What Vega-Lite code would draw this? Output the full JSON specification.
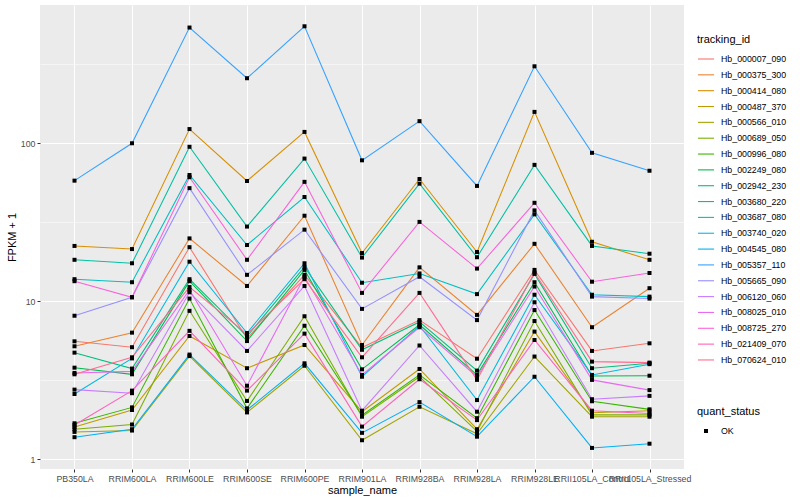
{
"$schema":"https://vega.github.io/schema/vega-lite/v6.json",
"width":644,"height":464,
"autosize":{"type":"none"},
"padding":{"left":40,"top":5,"right":116,"bottom":31},
"background":"white",
"datasets":{"d":[
{"tracking_id":"Hb_000007_090","sample_name":"PB350LA","fpkm":5.58},{"tracking_id":"Hb_000007_090","sample_name":"RRIM600LA","fpkm":5.12},{"tracking_id":"Hb_000007_090","sample_name":"RRIM600LE","fpkm":22.0},{"tracking_id":"Hb_000007_090","sample_name":"RRIM600SE","fpkm":5.8},{"tracking_id":"Hb_000007_090","sample_name":"RRIM600PE","fpkm":14.7},{"tracking_id":"Hb_000007_090","sample_name":"RRIM901LA","fpkm":5.1},{"tracking_id":"Hb_000007_090","sample_name":"RRIM928BA","fpkm":7.6},{"tracking_id":"Hb_000007_090","sample_name":"RRIM928LA","fpkm":4.33},{"tracking_id":"Hb_000007_090","sample_name":"RRIM928LE","fpkm":15.8},{"tracking_id":"Hb_000007_090","sample_name":"RRII105LA_Control","fpkm":4.85},{"tracking_id":"Hb_000007_090","sample_name":"RRII105LA_Stressed","fpkm":5.42},
{"tracking_id":"Hb_000375_300","sample_name":"PB350LA","fpkm":5.19},{"tracking_id":"Hb_000375_300","sample_name":"RRIM600LA","fpkm":6.33},{"tracking_id":"Hb_000375_300","sample_name":"RRIM600LE","fpkm":25.0},{"tracking_id":"Hb_000375_300","sample_name":"RRIM600SE","fpkm":12.5},{"tracking_id":"Hb_000375_300","sample_name":"RRIM600PE","fpkm":34.8},{"tracking_id":"Hb_000375_300","sample_name":"RRIM901LA","fpkm":5.29},{"tracking_id":"Hb_000375_300","sample_name":"RRIM928BA","fpkm":16.4},{"tracking_id":"Hb_000375_300","sample_name":"RRIM928LA","fpkm":8.2},{"tracking_id":"Hb_000375_300","sample_name":"RRIM928LE","fpkm":23.1},{"tracking_id":"Hb_000375_300","sample_name":"RRII105LA_Control","fpkm":6.85},{"tracking_id":"Hb_000375_300","sample_name":"RRII105LA_Stressed","fpkm":12.1},
{"tracking_id":"Hb_000414_080","sample_name":"PB350LA","fpkm":22.4},{"tracking_id":"Hb_000414_080","sample_name":"RRIM600LA","fpkm":21.4},{"tracking_id":"Hb_000414_080","sample_name":"RRIM600LE","fpkm":123},{"tracking_id":"Hb_000414_080","sample_name":"RRIM600SE","fpkm":57.7},{"tracking_id":"Hb_000414_080","sample_name":"RRIM600PE","fpkm":118},{"tracking_id":"Hb_000414_080","sample_name":"RRIM901LA","fpkm":20.2},{"tracking_id":"Hb_000414_080","sample_name":"RRIM928BA","fpkm":59.4},{"tracking_id":"Hb_000414_080","sample_name":"RRIM928LA","fpkm":20.5},{"tracking_id":"Hb_000414_080","sample_name":"RRIM928LE","fpkm":158},{"tracking_id":"Hb_000414_080","sample_name":"RRII105LA_Control","fpkm":23.8},{"tracking_id":"Hb_000414_080","sample_name":"RRII105LA_Stressed","fpkm":18.3},
{"tracking_id":"Hb_000487_370","sample_name":"PB350LA","fpkm":1.60},{"tracking_id":"Hb_000487_370","sample_name":"RRIM600LA","fpkm":2.05},{"tracking_id":"Hb_000487_370","sample_name":"RRIM600LE","fpkm":6.03},{"tracking_id":"Hb_000487_370","sample_name":"RRIM600SE","fpkm":3.77},{"tracking_id":"Hb_000487_370","sample_name":"RRIM600PE","fpkm":5.29},{"tracking_id":"Hb_000487_370","sample_name":"RRIM901LA","fpkm":2.0},{"tracking_id":"Hb_000487_370","sample_name":"RRIM928BA","fpkm":3.73},{"tracking_id":"Hb_000487_370","sample_name":"RRIM928LA","fpkm":1.55},{"tracking_id":"Hb_000487_370","sample_name":"RRIM928LE","fpkm":6.43},{"tracking_id":"Hb_000487_370","sample_name":"RRII105LA_Control","fpkm":1.97},{"tracking_id":"Hb_000487_370","sample_name":"RRII105LA_Stressed","fpkm":2.03},
{"tracking_id":"Hb_000566_010","sample_name":"PB350LA","fpkm":1.49},{"tracking_id":"Hb_000566_010","sample_name":"RRIM600LA","fpkm":1.52},{"tracking_id":"Hb_000566_010","sample_name":"RRIM600LE","fpkm":4.5},{"tracking_id":"Hb_000566_010","sample_name":"RRIM600SE","fpkm":1.98},{"tracking_id":"Hb_000566_010","sample_name":"RRIM600PE","fpkm":3.91},{"tracking_id":"Hb_000566_010","sample_name":"RRIM901LA","fpkm":1.32},{"tracking_id":"Hb_000566_010","sample_name":"RRIM928BA","fpkm":2.15},{"tracking_id":"Hb_000566_010","sample_name":"RRIM928LA","fpkm":1.45},{"tracking_id":"Hb_000566_010","sample_name":"RRIM928LE","fpkm":4.47},{"tracking_id":"Hb_000566_010","sample_name":"RRII105LA_Control","fpkm":1.86},{"tracking_id":"Hb_000566_010","sample_name":"RRII105LA_Stressed","fpkm":1.86},
{"tracking_id":"Hb_000689_050","sample_name":"PB350LA","fpkm":1.55},{"tracking_id":"Hb_000689_050","sample_name":"RRIM600LA","fpkm":1.66},{"tracking_id":"Hb_000689_050","sample_name":"RRIM600LE","fpkm":8.7},{"tracking_id":"Hb_000689_050","sample_name":"RRIM600SE","fpkm":2.34},{"tracking_id":"Hb_000689_050","sample_name":"RRIM600PE","fpkm":8.04},{"tracking_id":"Hb_000689_050","sample_name":"RRIM901LA","fpkm":1.86},{"tracking_id":"Hb_000689_050","sample_name":"RRIM928BA","fpkm":3.33},{"tracking_id":"Hb_000689_050","sample_name":"RRIM928LA","fpkm":1.50},{"tracking_id":"Hb_000689_050","sample_name":"RRIM928LE","fpkm":7.5},{"tracking_id":"Hb_000689_050","sample_name":"RRII105LA_Control","fpkm":1.91},{"tracking_id":"Hb_000689_050","sample_name":"RRII105LA_Stressed","fpkm":1.91},
{"tracking_id":"Hb_000996_080","sample_name":"PB350LA","fpkm":1.69},{"tracking_id":"Hb_000996_080","sample_name":"RRIM600LA","fpkm":2.13},{"tracking_id":"Hb_000996_080","sample_name":"RRIM600LE","fpkm":10.4},{"tracking_id":"Hb_000996_080","sample_name":"RRIM600SE","fpkm":2.10},{"tracking_id":"Hb_000996_080","sample_name":"RRIM600PE","fpkm":7.0},{"tracking_id":"Hb_000996_080","sample_name":"RRIM901LA","fpkm":1.9},{"tracking_id":"Hb_000996_080","sample_name":"RRIM928BA","fpkm":3.42},{"tracking_id":"Hb_000996_080","sample_name":"RRIM928LA","fpkm":1.82},{"tracking_id":"Hb_000996_080","sample_name":"RRIM928LE","fpkm":8.8},{"tracking_id":"Hb_000996_080","sample_name":"RRII105LA_Control","fpkm":2.33},{"tracking_id":"Hb_000996_080","sample_name":"RRII105LA_Stressed","fpkm":2.07},
{"tracking_id":"Hb_002249_080","sample_name":"PB350LA","fpkm":3.80},{"tracking_id":"Hb_002249_080","sample_name":"RRIM600LA","fpkm":3.45},{"tracking_id":"Hb_002249_080","sample_name":"RRIM600LE","fpkm":13.4},{"tracking_id":"Hb_002249_080","sample_name":"RRIM600SE","fpkm":5.6},{"tracking_id":"Hb_002249_080","sample_name":"RRIM600PE","fpkm":15.8},{"tracking_id":"Hb_002249_080","sample_name":"RRIM901LA","fpkm":3.71},{"tracking_id":"Hb_002249_080","sample_name":"RRIM928BA","fpkm":7.1},{"tracking_id":"Hb_002249_080","sample_name":"RRIM928LA","fpkm":3.42},{"tracking_id":"Hb_002249_080","sample_name":"RRIM928LE","fpkm":13.2},{"tracking_id":"Hb_002249_080","sample_name":"RRII105LA_Control","fpkm":3.37},{"tracking_id":"Hb_002249_080","sample_name":"RRII105LA_Stressed","fpkm":3.38},
{"tracking_id":"Hb_002942_230","sample_name":"PB350LA","fpkm":4.73},{"tracking_id":"Hb_002942_230","sample_name":"RRIM600LA","fpkm":3.75},{"tracking_id":"Hb_002942_230","sample_name":"RRIM600LE","fpkm":13.8},{"tracking_id":"Hb_002942_230","sample_name":"RRIM600SE","fpkm":6.0},{"tracking_id":"Hb_002942_230","sample_name":"RRIM600PE","fpkm":16.5},{"tracking_id":"Hb_002942_230","sample_name":"RRIM901LA","fpkm":4.93},{"tracking_id":"Hb_002942_230","sample_name":"RRIM928BA","fpkm":7.4},{"tracking_id":"Hb_002942_230","sample_name":"RRIM928LA","fpkm":3.64},{"tracking_id":"Hb_002942_230","sample_name":"RRIM928LE","fpkm":14.9},{"tracking_id":"Hb_002942_230","sample_name":"RRII105LA_Control","fpkm":3.77},{"tracking_id":"Hb_002942_230","sample_name":"RRII105LA_Stressed","fpkm":4.05},
{"tracking_id":"Hb_003680_220","sample_name":"PB350LA","fpkm":18.3},{"tracking_id":"Hb_003680_220","sample_name":"RRIM600LA","fpkm":17.4},{"tracking_id":"Hb_003680_220","sample_name":"RRIM600LE","fpkm":95},{"tracking_id":"Hb_003680_220","sample_name":"RRIM600SE","fpkm":29.7},{"tracking_id":"Hb_003680_220","sample_name":"RRIM600PE","fpkm":80},{"tracking_id":"Hb_003680_220","sample_name":"RRIM901LA","fpkm":18.9},{"tracking_id":"Hb_003680_220","sample_name":"RRIM928BA","fpkm":55.5},{"tracking_id":"Hb_003680_220","sample_name":"RRIM928LA","fpkm":19.0},{"tracking_id":"Hb_003680_220","sample_name":"RRIM928LE","fpkm":73},{"tracking_id":"Hb_003680_220","sample_name":"RRII105LA_Control","fpkm":22.4},{"tracking_id":"Hb_003680_220","sample_name":"RRII105LA_Stressed","fpkm":20.0},
{"tracking_id":"Hb_003687_080","sample_name":"PB350LA","fpkm":13.8},{"tracking_id":"Hb_003687_080","sample_name":"RRIM600LA","fpkm":13.2},{"tracking_id":"Hb_003687_080","sample_name":"RRIM600LE","fpkm":63},{"tracking_id":"Hb_003687_080","sample_name":"RRIM600SE","fpkm":22.7},{"tracking_id":"Hb_003687_080","sample_name":"RRIM600PE","fpkm":45.7},{"tracking_id":"Hb_003687_080","sample_name":"RRIM901LA","fpkm":13.1},{"tracking_id":"Hb_003687_080","sample_name":"RRIM928BA","fpkm":15.0},{"tracking_id":"Hb_003687_080","sample_name":"RRIM928LA","fpkm":11.1},{"tracking_id":"Hb_003687_080","sample_name":"RRIM928LE","fpkm":35.5},{"tracking_id":"Hb_003687_080","sample_name":"RRII105LA_Control","fpkm":11.0},{"tracking_id":"Hb_003687_080","sample_name":"RRII105LA_Stressed","fpkm":10.7},
{"tracking_id":"Hb_003740_020","sample_name":"PB350LA","fpkm":2.59},{"tracking_id":"Hb_003740_020","sample_name":"RRIM600LA","fpkm":4.35},{"tracking_id":"Hb_003740_020","sample_name":"RRIM600LE","fpkm":17.8},{"tracking_id":"Hb_003740_020","sample_name":"RRIM600SE","fpkm":6.3},{"tracking_id":"Hb_003740_020","sample_name":"RRIM600PE","fpkm":17.4},{"tracking_id":"Hb_003740_020","sample_name":"RRIM901LA","fpkm":3.33},{"tracking_id":"Hb_003740_020","sample_name":"RRIM928BA","fpkm":7.0},{"tracking_id":"Hb_003740_020","sample_name":"RRIM928LA","fpkm":2.37},{"tracking_id":"Hb_003740_020","sample_name":"RRIM928LE","fpkm":11.0},{"tracking_id":"Hb_003740_020","sample_name":"RRII105LA_Control","fpkm":3.42},{"tracking_id":"Hb_003740_020","sample_name":"RRII105LA_Stressed","fpkm":4.0},
{"tracking_id":"Hb_004545_080","sample_name":"PB350LA","fpkm":1.38},{"tracking_id":"Hb_004545_080","sample_name":"RRIM600LA","fpkm":1.55},{"tracking_id":"Hb_004545_080","sample_name":"RRIM600LE","fpkm":4.6},{"tracking_id":"Hb_004545_080","sample_name":"RRIM600SE","fpkm":2.05},{"tracking_id":"Hb_004545_080","sample_name":"RRIM600PE","fpkm":4.05},{"tracking_id":"Hb_004545_080","sample_name":"RRIM901LA","fpkm":1.47},{"tracking_id":"Hb_004545_080","sample_name":"RRIM928BA","fpkm":2.30},{"tracking_id":"Hb_004545_080","sample_name":"RRIM928LA","fpkm":1.39},{"tracking_id":"Hb_004545_080","sample_name":"RRIM928LE","fpkm":3.33},{"tracking_id":"Hb_004545_080","sample_name":"RRII105LA_Control","fpkm":1.18},{"tracking_id":"Hb_004545_080","sample_name":"RRII105LA_Stressed","fpkm":1.255},
{"tracking_id":"Hb_005357_110","sample_name":"PB350LA","fpkm":58},{"tracking_id":"Hb_005357_110","sample_name":"RRIM600LA","fpkm":100},{"tracking_id":"Hb_005357_110","sample_name":"RRIM600LE","fpkm":540},{"tracking_id":"Hb_005357_110","sample_name":"RRIM600SE","fpkm":258},{"tracking_id":"Hb_005357_110","sample_name":"RRIM600PE","fpkm":550},{"tracking_id":"Hb_005357_110","sample_name":"RRIM901LA","fpkm":78},{"tracking_id":"Hb_005357_110","sample_name":"RRIM928BA","fpkm":138},{"tracking_id":"Hb_005357_110","sample_name":"RRIM928LA","fpkm":53.7},{"tracking_id":"Hb_005357_110","sample_name":"RRIM928LE","fpkm":307},{"tracking_id":"Hb_005357_110","sample_name":"RRII105LA_Control","fpkm":87},{"tracking_id":"Hb_005357_110","sample_name":"RRII105LA_Stressed","fpkm":67},
{"tracking_id":"Hb_005665_090","sample_name":"PB350LA","fpkm":8.1},{"tracking_id":"Hb_005665_090","sample_name":"RRIM600LA","fpkm":10.6},{"tracking_id":"Hb_005665_090","sample_name":"RRIM600LE","fpkm":52},{"tracking_id":"Hb_005665_090","sample_name":"RRIM600SE","fpkm":14.7},{"tracking_id":"Hb_005665_090","sample_name":"RRIM600PE","fpkm":28.4},{"tracking_id":"Hb_005665_090","sample_name":"RRIM901LA","fpkm":8.95},{"tracking_id":"Hb_005665_090","sample_name":"RRIM928BA","fpkm":14.3},{"tracking_id":"Hb_005665_090","sample_name":"RRIM928LA","fpkm":7.6},{"tracking_id":"Hb_005665_090","sample_name":"RRIM928LE","fpkm":37.6},{"tracking_id":"Hb_005665_090","sample_name":"RRII105LA_Control","fpkm":10.7},{"tracking_id":"Hb_005665_090","sample_name":"RRII105LA_Stressed","fpkm":10.4},
{"tracking_id":"Hb_006120_060","sample_name":"PB350LA","fpkm":2.76},{"tracking_id":"Hb_006120_060","sample_name":"RRIM600LA","fpkm":2.62},{"tracking_id":"Hb_006120_060","sample_name":"RRIM600LE","fpkm":11.4},{"tracking_id":"Hb_006120_060","sample_name":"RRIM600SE","fpkm":4.85},{"tracking_id":"Hb_006120_060","sample_name":"RRIM600PE","fpkm":12.5},{"tracking_id":"Hb_006120_060","sample_name":"RRIM901LA","fpkm":2.03},{"tracking_id":"Hb_006120_060","sample_name":"RRIM928BA","fpkm":5.25},{"tracking_id":"Hb_006120_060","sample_name":"RRIM928LA","fpkm":2.0},{"tracking_id":"Hb_006120_060","sample_name":"RRIM928LE","fpkm":9.86},{"tracking_id":"Hb_006120_060","sample_name":"RRII105LA_Control","fpkm":2.40},{"tracking_id":"Hb_006120_060","sample_name":"RRII105LA_Stressed","fpkm":2.52},
{"tracking_id":"Hb_008025_010","sample_name":"PB350LA","fpkm":3.52},{"tracking_id":"Hb_008025_010","sample_name":"RRIM600LA","fpkm":3.6},{"tracking_id":"Hb_008025_010","sample_name":"RRIM600LE","fpkm":11.8},{"tracking_id":"Hb_008025_010","sample_name":"RRIM600SE","fpkm":2.92},{"tracking_id":"Hb_008025_010","sample_name":"RRIM600PE","fpkm":14.3},{"tracking_id":"Hb_008025_010","sample_name":"RRIM901LA","fpkm":3.42},{"tracking_id":"Hb_008025_010","sample_name":"RRIM928BA","fpkm":6.85},{"tracking_id":"Hb_008025_010","sample_name":"RRIM928LA","fpkm":3.33},{"tracking_id":"Hb_008025_010","sample_name":"RRIM928LE","fpkm":12.4},{"tracking_id":"Hb_008025_010","sample_name":"RRII105LA_Control","fpkm":3.18},{"tracking_id":"Hb_008025_010","sample_name":"RRII105LA_Stressed","fpkm":2.74},
{"tracking_id":"Hb_008725_270","sample_name":"PB350LA","fpkm":13.4},{"tracking_id":"Hb_008725_270","sample_name":"RRIM600LA","fpkm":10.6},{"tracking_id":"Hb_008725_270","sample_name":"RRIM600LE","fpkm":61},{"tracking_id":"Hb_008725_270","sample_name":"RRIM600SE","fpkm":18.3},{"tracking_id":"Hb_008725_270","sample_name":"RRIM600PE","fpkm":57},{"tracking_id":"Hb_008725_270","sample_name":"RRIM901LA","fpkm":11.3},{"tracking_id":"Hb_008725_270","sample_name":"RRIM928BA","fpkm":31.8},{"tracking_id":"Hb_008725_270","sample_name":"RRIM928LA","fpkm":16.1},{"tracking_id":"Hb_008725_270","sample_name":"RRIM928LE","fpkm":42},{"tracking_id":"Hb_008725_270","sample_name":"RRII105LA_Control","fpkm":13.3},{"tracking_id":"Hb_008725_270","sample_name":"RRII105LA_Stressed","fpkm":15.1},
{"tracking_id":"Hb_021409_070","sample_name":"PB350LA","fpkm":1.65},{"tracking_id":"Hb_021409_070","sample_name":"RRIM600LA","fpkm":2.72},{"tracking_id":"Hb_021409_070","sample_name":"RRIM600LE","fpkm":6.5},{"tracking_id":"Hb_021409_070","sample_name":"RRIM600SE","fpkm":2.72},{"tracking_id":"Hb_021409_070","sample_name":"RRIM600PE","fpkm":6.24},{"tracking_id":"Hb_021409_070","sample_name":"RRIM901LA","fpkm":1.61},{"tracking_id":"Hb_021409_070","sample_name":"RRIM928BA","fpkm":3.21},{"tracking_id":"Hb_021409_070","sample_name":"RRIM928LA","fpkm":1.77},{"tracking_id":"Hb_021409_070","sample_name":"RRIM928LE","fpkm":5.69},{"tracking_id":"Hb_021409_070","sample_name":"RRII105LA_Control","fpkm":2.03},{"tracking_id":"Hb_021409_070","sample_name":"RRII105LA_Stressed","fpkm":1.95},
{"tracking_id":"Hb_070624_010","sample_name":"PB350LA","fpkm":3.45},{"tracking_id":"Hb_070624_010","sample_name":"RRIM600LA","fpkm":4.42},{"tracking_id":"Hb_070624_010","sample_name":"RRIM600LE","fpkm":12.3},{"tracking_id":"Hb_070624_010","sample_name":"RRIM600SE","fpkm":6.2},{"tracking_id":"Hb_070624_010","sample_name":"RRIM600PE","fpkm":13.8},{"tracking_id":"Hb_070624_010","sample_name":"RRIM901LA","fpkm":4.42},{"tracking_id":"Hb_070624_010","sample_name":"RRIM928BA","fpkm":11.3},{"tracking_id":"Hb_070624_010","sample_name":"RRIM928LA","fpkm":3.18},{"tracking_id":"Hb_070624_010","sample_name":"RRIM928LE","fpkm":15.2},{"tracking_id":"Hb_070624_010","sample_name":"RRII105LA_Control","fpkm":4.15},{"tracking_id":"Hb_070624_010","sample_name":"RRII105LA_Stressed","fpkm":4.09}
]},
"data":{"name":"d"},
"transform":[{"calculate":"'OK'","as":"quant_status"}],
"encoding":{
 "x":{"field":"sample_name","type":"nominal",
  "sort":["PB350LA","RRIM600LA","RRIM600LE","RRIM600SE","RRIM600PE","RRIM901LA","RRIM928BA","RRIM928LA","RRIM928LE","RRII105LA_Control","RRII105LA_Stressed"],
  "scale":{"type":"point","padding":0.6},
  "axis":{"title":"sample_name","labelAngle":0,"labelOverlap":false,"grid":true,"gridColor":"white","gridWidth":1.07,"tickSize":3,"labelPadding":2,"titlePadding":2}},
 "y":{"field":"fpkm","type":"quantitative",
  "scale":{"type":"log","domain":[0.868,750],"nice":false},
  "axis":{"title":"FPKM + 1","values":[1,3.1623,10,31.623,100,316.23],"labelOverlap":false,
   "labelExpr":"datum.value==1?'1':datum.value==10?'10':datum.value==100?'100':''",
   "grid":true,"gridColor":"white",
   "gridWidth":{"condition":{"test":"datum.value==1||datum.value==10||datum.value==100","value":1.07},"value":0.53},
   "tickOpacity":{"condition":{"test":"datum.value==1||datum.value==10||datum.value==100","value":1},"value":0},
   "tickSize":3,"labelPadding":2,"titlePadding":3}}
},
"layer":[
 {"mark":{"type":"line","strokeWidth":1.07},
  "encoding":{
   "order":{"value":null},
   "color":{"field":"tracking_id","type":"nominal",
    "scale":{"domain":["Hb_000007_090","Hb_000375_300","Hb_000414_080","Hb_000487_370","Hb_000566_010","Hb_000689_050","Hb_000996_080","Hb_002249_080","Hb_002942_230","Hb_003680_220","Hb_003687_080","Hb_003740_020","Hb_004545_080","Hb_005357_110","Hb_005665_090","Hb_006120_060","Hb_008025_010","Hb_008725_270","Hb_021409_070","Hb_070624_010"],
     "range":["#F8766D","#EA8331","#D89000","#C09B00","#A3A500","#7CAE00","#39B600","#00BB4E","#00BF7D","#00C1A3","#00BFC4","#00BAE0","#00B0F6","#35A2FF","#9590FF","#C77CFF","#E76BF3","#FA62DB","#FF62BC","#FF6C91"]},
    "legend":{"title":"tracking_id","orient":"none","legendX":657,"legendY":29,"symbolType":"stroke","symbolSize":256,"symbolStrokeWidth":1.1,"rowPadding":1.84,"titlePadding":5,"labelOffset":6}}}},
 {"mark":{"type":"point","filled":true,"opacity":1,"strokeWidth":0,"size":256},
  "encoding":{
   "color":{"value":"black"},
   "shape":{"field":"quant_status","type":"nominal","scale":{"range":["M-0.25,-0.25H0.25V0.25H-0.25Z"]},
    "legend":{"title":"quant_status","orient":"none","legendX":657,"legendY":401,"symbolSize":256,"symbolFillColor":"black","titlePadding":5,"labelOffset":6}}}}
],
"config":{
 "view":{"fill":"#EBEBEB","stroke":null},
 "axis":{"domain":false,"tickColor":"#333333","labelColor":"#4D4D4D","labelFont":"Liberation Sans","labelFontSize":8.8,"titleFont":"Liberation Sans","titleFontSize":11,"titleFontWeight":"normal","titleColor":"black"},
 "legend":{"labelFont":"Liberation Sans","labelFontSize":8.8,"labelColor":"black","titleFont":"Liberation Sans","titleFontSize":11,"titleFontWeight":"normal","titleColor":"black"}
}
}
